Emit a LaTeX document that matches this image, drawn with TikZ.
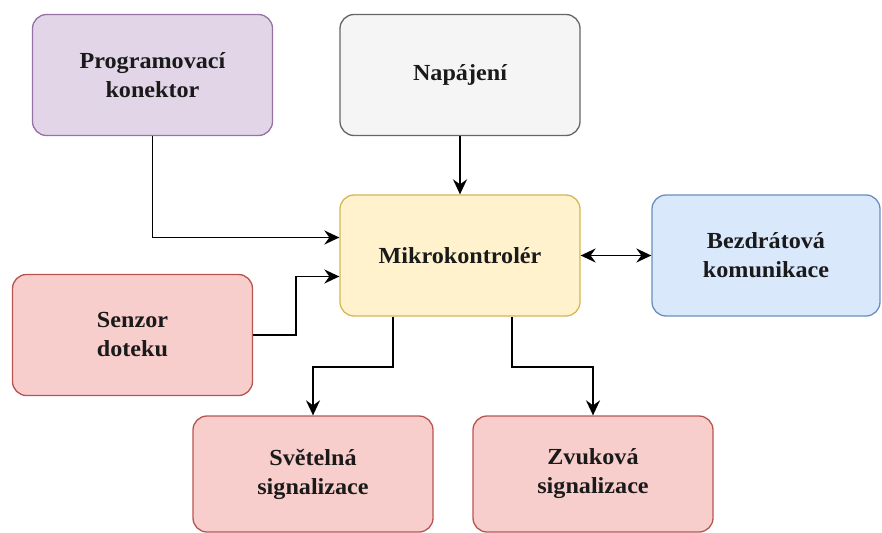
\documentclass[tikz,border=0pt]{standalone}
\usepackage{fontspec}
\setmainfont[FakeStretch=1.05]{Liberation Serif}
\usetikzlibrary{arrows.meta}
\definecolor{purF}{HTML}{E1D5E7}\definecolor{purD}{HTML}{9673A6}
\definecolor{grF}{HTML}{F5F5F5}\definecolor{grD}{HTML}{666666}
\definecolor{yeF}{HTML}{FFF2CC}\definecolor{yeD}{HTML}{D6B656}
\definecolor{blF}{HTML}{DAE8FC}\definecolor{blD}{HTML}{6C8EBF}
\definecolor{reF}{HTML}{F8CECC}\definecolor{reD}{HTML}{B85450}
\definecolor{txt}{HTML}{1A1A1A}
\begin{document}
\begin{tikzpicture}[x=1pt,y=-1pt,
  box/.style={rectangle, rounded corners=14pt, line width=1.3pt, minimum width=240pt, minimum height=121pt, inner sep=0pt, align=center, text=txt, font=\fontsize{23}{29}\selectfont\bfseries},
  tip/.style={Stealth[length=15pt,width=14pt,inset=5pt]},
  arr/.style={line width=1.8pt, -{Stealth[length=15pt,width=14pt,inset=5pt]}},
  arrb/.style={line width=1.8pt, {Stealth[length=15pt,width=14pt,inset=5pt]}-{Stealth[length=15pt,width=14pt,inset=5pt]}}]
\useasboundingbox (0,0) rectangle (882,532);
\clip (0,0) rectangle (882,532);
\node[box, fill=purF, draw=purD] (prog) at (152.5,75) {Programovací\\konektor};
\node[box, fill=grF, draw=grD] (nap) at (460,75) {Napájení};
\node[box, fill=yeF, draw=yeD] (mikro) at (460,255.5) {Mikrokontrolér};
\node[box, fill=blF, draw=blD, minimum width=228pt] (bezd) at (766,255.5) {Bezdrátová\\komunikace};
\node[box, fill=reF, draw=reD] (senzor) at (132.5,335) {Senzor\\doteku};
\node[box, fill=reF, draw=reD, minimum height=116pt] (svet) at (313,474) {Světelná\\signalizace};
\node[box, fill=reF, draw=reD, minimum height=116pt] (zvuk) at (593,474) {Zvuková\\signalizace};
\draw[arr] (prog.south) |- ([yshift=18pt]mikro.west);
\draw[arr] (senzor.east) -- ++(43,0) |- ([yshift=-21pt]mikro.west);
\draw[arr] (nap.south) -- (mikro.north);
\draw[arrb] (mikro.east) -- (bezd.west);
\draw[arr] ([xshift=-67pt]mikro.south) -- ++(0,50) -| (svet.north);
\draw[arr] ([xshift=52pt]mikro.south) -- ++(0,50) -| (zvuk.north);
\end{tikzpicture}
\end{document}
